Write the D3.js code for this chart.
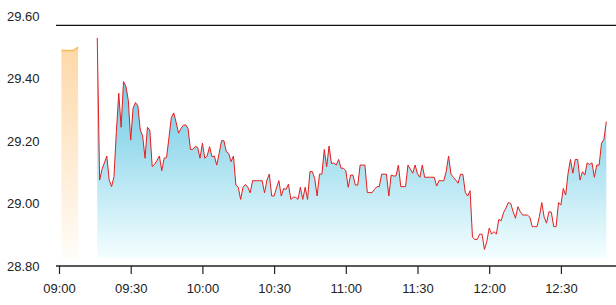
<!DOCTYPE html>
<html>
<head>
<meta charset="utf-8">
<script src="https://cdn.jsdelivr.net/npm/d3@7/dist/d3.min.js"></script>
<style>
  html, body { margin: 0; padding: 0; background: #fff; }
  svg { display: block; }
</style>
</head>
<body>
<svg id="chart" width="616" height="305"></svg>
<script>
// ---------------- DATA ----------------
const xTickLabels = ["09:00", "09:30", "10:00", "10:30", "11:00", "11:30", "12:00", "12:30"];
const yTickValues = [28.80, 29.00, 29.20, 29.40, 29.60];
const refLineValue = 29.57;

// pre-open auction (one value per minute, starting 09:01)
const preStart = "09:01";
const preValues = [29.49, 29.49, 29.49, 29.49, 29.49, 29.49, 29.495, 29.50];

// continuous trading (one value per minute, starting 09:16)
const mainStart = "09:16";
const mainValues = [
  29.53, 29.075, 29.11, 29.13, 29.152, 29.075, 29.054, 29.086, 29.23, 29.353,
  29.244, 29.39, 29.375, 29.33, 29.203, 29.305, 29.323, 29.312, 29.235, 29.216,
  29.145, 29.244, 29.235, 29.118, 29.125, 29.138, 29.152, 29.105, 29.145, 29.147,
  29.21, 29.275, 29.29, 29.26, 29.225, 29.24, 29.25, 29.252, 29.24, 29.173,
  29.173, 29.182, 29.18, 29.145, 29.193, 29.145, 29.152, 29.182, 29.15, 29.152,
  29.123, 29.16, 29.201, 29.201, 29.166, 29.16, 29.134, 29.152, 29.059, 29.052,
  29.013, 29.052, 29.061, 29.052, 29.034, 29.073, 29.073, 29.073, 29.073, 29.073,
  29.034, 29.075, 29.094, 29.024, 29.024, 29.05, 29.073, 29.024, 29.048, 29.045,
  29.062, 29.013, 29.02, 29.02, 29.013, 29.052, 29.013, 29.052, 29.013, 29.102,
  29.102, 29.08, 29.024, 29.094, 29.094, 29.173, 29.118, 29.184, 29.128, 29.13,
  29.123, 29.141, 29.113, 29.113, 29.105, 29.052, 29.091, 29.091, 29.059, 29.059,
  29.123, 29.123, 29.123, 29.035, 29.035, 29.035, 29.045, 29.054, 29.054, 29.094,
  29.094, 29.094, 29.024, 29.091, 29.088, 29.088, 29.123, 29.054, 29.054, 29.054,
  29.123, 29.11, 29.097, 29.123, 29.095, 29.084, 29.123, 29.084, 29.084, 29.084,
  29.084, 29.084, 29.056, 29.073, 29.073, 29.073, 29.102, 29.152, 29.094, 29.084,
  29.075, 29.065, 29.094, 29.093, 29.035, 29.024, 29.041, 28.892, 28.885, 28.885,
  28.902, 28.902, 28.853, 28.878, 28.921, 28.902, 28.91, 28.902, 28.949, 28.945,
  28.971, 28.985, 29.003, 29.0, 28.974, 28.953, 28.99, 28.974, 28.963, 28.963,
  28.963, 28.956, 28.926, 28.926, 28.926, 28.958, 29.003, 28.956, 28.937, 28.974,
  28.972, 28.926, 28.926, 29.003, 28.995, 29.048, 29.027, 29.097, 29.141, 29.097,
  29.141, 29.141, 29.075, 29.102, 29.091, 29.13, 29.125, 29.13, 29.084, 29.123,
  29.123, 29.193, 29.205, 29.262
];

// ---------------- HELPERS ----------------
const toMin = s => { const [h, m] = s.split(":").map(Number); return (h - 9) * 60 + m; };
const preData = preValues.map((v, i) => ({ t: toMin(preStart) + i, v }));
const mainData = mainValues.map((v, i) => ({ t: toMin(mainStart) + i, v }));

// ---------------- CHART ----------------
const svg = d3.select("#chart");
const W = 616, H = 305;
const font = "'Liberation Sans', Arial, Helvetica, sans-serif";

const x = d3.scaleLinear().domain([0, 233]).range([59, 59 + 233 * 2.39]);
const y = d3.scaleLinear().domain([28.8, 29.6]).range([266, 16]);
const baseV = 28.825;

const defs = svg.append("defs");
const gBlue = defs.append("linearGradient").attr("id", "gBlue")
  .attr("gradientUnits", "userSpaceOnUse")
  .attr("x1", 0).attr("x2", 0).attr("y1", y(29.53)).attr("y2", y(baseV));
gBlue.append("stop").attr("offset", "0%").attr("stop-color", "#5bbfdd");
gBlue.append("stop").attr("offset", "45%").attr("stop-color", "#96d9ec");
gBlue.append("stop").attr("offset", "100%").attr("stop-color", "#f4feff");

const gOrange = defs.append("linearGradient").attr("id", "gOrange")
  .attr("gradientUnits", "userSpaceOnUse")
  .attr("x1", 0).attr("x2", 0).attr("y1", y(29.5)).attr("y2", y(baseV));
gOrange.append("stop").attr("offset", "0%").attr("stop-color", "#fed8a8");
gOrange.append("stop").attr("offset", "100%").attr("stop-color", "#fffcf8");

const area = d3.area().x(d => x(d.t)).y0(y(baseV)).y1(d => y(d.v));
const line = d3.line().x(d => x(d.t)).y(d => y(d.v));

// pre-open area
svg.append("path").datum(preData).attr("d", area).attr("fill", "url(#gOrange)");
svg.append("path").datum(preData).attr("d", line)
  .attr("fill", "none").attr("stroke", "#f4bb55").attr("stroke-width", 1.5);

// main area + line
svg.append("path").datum(mainData).attr("d", area).attr("fill", "url(#gBlue)");
svg.append("path").datum(mainData).attr("d", line)
  .attr("fill", "none").attr("stroke", "#e31e1e").attr("stroke-width", 1)
  .attr("stroke-linejoin", "round");

// reference line
svg.append("line")
  .attr("x1", 56).attr("x2", W).attr("y1", y(refLineValue)).attr("y2", y(refLineValue))
  .attr("stroke", "#111").attr("stroke-width", 1.3);

// y labels
svg.append("g").selectAll("text").data(yTickValues).join("text")
  .attr("x", 7).attr("y", d => y(d)).attr("dy", "0.36em")
  .attr("font-family", font).attr("font-size", 13).attr("fill", "#222")
  .text(d => d.toFixed(2));

// x axis
const xTicks = xTickLabels.map(toMin);
const xAxis = d3.axisBottom(x).tickValues(xTicks).tickSize(8).tickSizeOuter(0)
  .tickFormat((d, i) => xTickLabels[i]);
const gx = svg.append("g").attr("transform", `translate(0,${y(28.8)})`).call(xAxis);
gx.select(".domain").remove();
gx.append("line").attr("x1", 56).attr("x2", W).attr("y1", 0).attr("y2", 0)
  .attr("stroke", "#222").attr("stroke-width", 1.5);
gx.selectAll(".tick line").attr("stroke", "#222").attr("stroke-width", 1.2);
gx.selectAll(".tick text").attr("font-family", font).attr("font-size", 13)
  .attr("fill", "#222").attr("dy", "0").attr("y", 27);
</script>
</body>
</html>
